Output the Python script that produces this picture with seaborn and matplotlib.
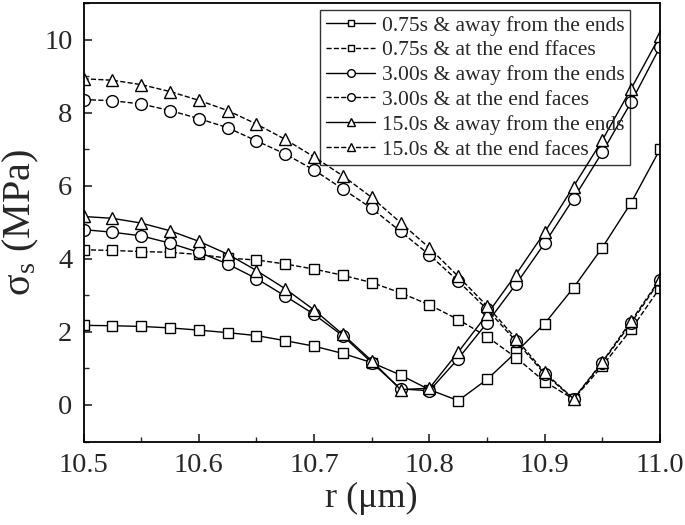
import numpy as np
import pandas as pd
import matplotlib
matplotlib.use('Agg')
import matplotlib.pyplot as plt
from matplotlib.ticker import MultipleLocator
import seaborn as sns

sns.set_style('ticks')
plt.rcParams['font.family'] = ['Liberation Serif', 'DejaVu Serif']
plt.rcParams['mathtext.fontset'] = 'custom'
plt.rcParams['mathtext.rm'] = 'Liberation Serif'
plt.rcParams['mathtext.it'] = 'Liberation Serif:italic'

# 径向位置 r (μm)
r = [10.5, 10.525, 10.55, 10.575, 10.6, 10.625, 10.65, 10.675, 10.7, 10.725, 10.75,
     10.775, 10.8, 10.825, 10.85, 10.875, 10.9, 10.925, 10.95, 10.975, 11.0]

# 各工况下的应力 (MPa)
s075_away = [2.18, 2.17, 2.15, 2.11, 2.05, 1.98, 1.90, 1.76, 1.61, 1.41, 1.16,
             0.82, 0.42, 0.12, 0.70, 1.44, 2.23, 3.21, 4.31, 5.54, 7.00]
s075_end = [4.25, 4.23, 4.20, 4.18, 4.12, 4.02, 3.97, 3.86, 3.72, 3.55, 3.35,
            3.07, 2.74, 2.34, 1.87, 1.30, 0.64, 0.16, 1.07, 2.07, 3.21]
s300_away = [4.80, 4.73, 4.63, 4.43, 4.18, 3.86, 3.46, 2.98, 2.48, 1.89, 1.16,
             0.44, 0.39, 1.27, 2.25, 3.30, 4.43, 5.65, 6.92, 8.29, 9.80]
s300_end = [8.36, 8.33, 8.24, 8.06, 7.84, 7.59, 7.23, 6.87, 6.43, 5.91, 5.38,
            4.75, 4.11, 3.39, 2.62, 1.75, 0.85, 0.16, 1.16, 2.25, 3.41]
s150_away = [5.16, 5.11, 4.98, 4.77, 4.48, 4.13, 3.68, 3.18, 2.60, 1.93, 1.21,
             0.42, 0.46, 1.45, 2.48, 3.57, 4.73, 5.98, 7.25, 8.66, 10.11]
s150_end = [8.93, 8.89, 8.77, 8.58, 8.34, 8.06, 7.69, 7.27, 6.79, 6.27, 5.68,
            4.99, 4.30, 3.52, 2.71, 1.82, 0.89, 0.17, 1.18, 2.30, 3.45]

labels = ['0.75s & away from the ends', '0.75s & at the end ffaces',
          '3.00s & away from the ends', '3.00s & at the end faces',
          '15.0s & away from the ends', '15.0s & at the end faces']
series = [s075_away, s075_end, s300_away, s300_end, s150_away, s150_end]
markers = ['s', 's', 'o', 'o', '^', '^']
styles = ['-', '--', '-', '--', '-', '--']
msizes = [7.5, 7.5, 8.5, 8.5, 9, 9]

fig, ax = plt.subplots(figsize=(6.85, 5.25), dpi=100)
fig.subplots_adjust(left=0.122, right=0.9635, bottom=0.159, top=0.994)

for lab, vals, mk, ls, ms in zip(labels, series, markers, styles, msizes):
    df = pd.DataFrame({'r': r, 'sigma': vals})
    sns.lineplot(data=df, x='r', y='sigma', ax=ax, label=lab, color='black',
                 linestyle=ls, linewidth=1.0, marker=mk, markersize=ms,
                 markerfacecolor='white', markeredgecolor='black',
                 markeredgewidth=1.0, dashes=(4, 3.5) if ls == '--' else '')

ax.set_xlim(10.5, 11.0)
ax.set_ylim(-1, 11)
ax.xaxis.set_major_locator(MultipleLocator(0.1))
ax.xaxis.set_minor_locator(MultipleLocator(0.05))
ax.yaxis.set_major_locator(MultipleLocator(2))
ax.yaxis.set_minor_locator(MultipleLocator(1))
ax.xaxis.set_major_formatter(matplotlib.ticker.FormatStrFormatter('%.1f'))
ax.tick_params(which='major', direction='in', length=6, width=1.2, labelsize=20.5, pad=8)
ax.tick_params(which='minor', direction='in', length=3.5, width=1.0)
for sp in ax.spines.values():
    sp.set_linewidth(1.3)
    sp.set_color('black')

ax.set_xlabel('r (μm)', fontsize=26, labelpad=3)
ax.set_ylabel('σ$_{\\mathrm{s}}$ (MPa)', fontsize=29, labelpad=2)

# 图例框透明，曲线可穿过
leg = ax.legend(loc='upper left', bbox_to_anchor=(0.411, 0.984), borderaxespad=0,
                fontsize=15.5, frameon=True, fancybox=False, edgecolor='black',
                facecolor='none', framealpha=None, handlelength=2.3, handletextpad=0.3,
                labelspacing=0.22, borderpad=0.25, markerscale=0.65)
leg.get_frame().set_linewidth(1.0)

fig.savefig('out.png', dpi=100)
